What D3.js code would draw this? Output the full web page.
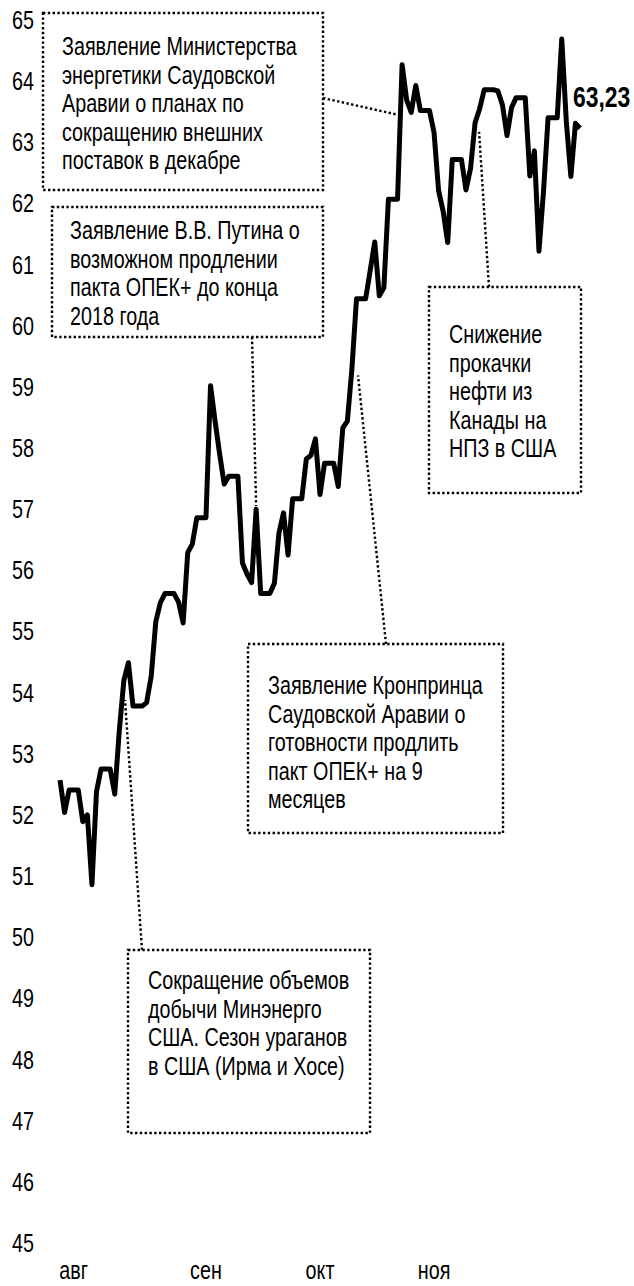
<!DOCTYPE html>
<html><head><meta charset="utf-8">
<script src="https://cdn.jsdelivr.net/npm/d3@7"></script>
<style>body{margin:0;background:#fff}svg{display:block}</style>
</head><body>
<svg id="c" width="634" height="1286"></svg>
<script>
// ---- data ----
const startDate = "2017-08-23";
const prices = [
  // Aug 23-31
  52.57, 52.04, 52.41, 52.41, 52.41, 51.89, 52.00, 50.86, 52.38,
  // Sep
  52.75, 52.75, 52.75, 52.34, 53.38, 54.20, 54.49, 53.78, 53.78, 53.78,
  53.84, 54.27, 55.16, 55.47, 55.62, 55.62, 55.62, 55.48, 55.14, 56.29,
  56.43, 56.86, 56.86, 56.86, 59.02, 58.44, 57.90, 57.41, 57.54, 57.54,
  // Oct
  57.54, 56.12, 55.94, 55.80, 57.00, 55.62, 55.62, 55.62, 55.79, 56.61,
  56.94, 56.25, 57.17, 57.17, 57.17, 57.82, 57.88, 58.15, 57.24, 57.75,
  57.75, 57.75, 57.37, 58.33, 58.44, 59.30, 60.44, 60.44, 60.44, 60.90, 61.37,
  // Nov
  60.49, 60.62, 62.07, 62.07, 62.07, 64.27, 63.69, 63.49, 63.93, 63.52,
  63.52, 63.52, 63.16, 62.21, 61.87, 61.36, 62.72, 62.72, 62.72, 62.22,
  62.57, 63.32, 63.55, 63.86, 63.86, 63.86, 63.84, 63.61, 63.11, 63.57,
  // Dec 1-15
  63.73, 63.73, 63.73, 62.45, 62.86, 61.22, 62.20, 63.40, 63.40, 63.40,
  64.69, 63.34, 62.44, 63.31, 63.23
];
const yTicks = [65,64,63,62,61,60,59,58,57,56,55,54,53,52,51,50,49,48,47,46,45];
const monthLabels = ["авг","сен","окт","ноя"];
const monthTickDates = ["2017-08-26","2017-09-24","2017-10-19","2017-11-13"];
const lastLabel = "63,23";
const noteTexts = [
  ["Заявление Министерства","энергетики Саудовской","Аравии о планах по","сокращению внешних","поставок в декабре"],
  ["Заявление В.В. Путина о","возможном продлении","пакта ОПЕК+ до конца","2018 года"],
  ["Снижение","прокачки","нефти из","Канады на","НПЗ в США"],
  ["Заявление Кронпринца","Саудовской Аравии о","готовности продлить","пакт ОПЕК+ на 9","месяцев"],
  ["Сокращение объемов","добычи Минэнерго","США. Сезон ураганов","в США (Ирма и Хосе)"]
];
const noteTargets = [
  {date:"2017-11-05T02:00", value:63.45},
  {date:"2017-10-05T00:00", value:57.05},
  {date:"2017-11-22T21:00", value:63.17},
  {date:"2017-10-27T08:00", value:59.19},
  {date:"2017-09-06T06:00", value:53.88}
];

// ---- layout ----
const FS = 25, SX = 0.79, LH = 28.5;
const FONT = "'Liberation Sans', Arial, sans-serif";
const noteBoxes = [
  {x:43, y:13, w:280, h:177, tx:62, ty:55, from:[323,98]},
  {x:52, y:207, w:271, h:130, tx:70, ty:239, from:[252,337]},
  {x:429, y:287, w:152, h:206, tx:449, ty:343, from:[489,287]},
  {x:248, y:644, w:255, h:189, tx:268, ty:694, from:[386,644]},
  {x:128, y:950, w:242, h:183, tx:148, ty:989, from:[142,950]}
];

const parse = d3.timeParse("%Y-%m-%d");
const parseT = d3.timeParse("%Y-%m-%dT%H:%M");
const d0 = parse(startDate);
const dates = d3.timeDay.range(d0, d3.timeDay.offset(d0, prices.length));
const data = dates.map((d,i)=>({date:d, value:prices[i]}));

const svg = d3.select("#c");
const x = d3.scaleTime().domain([dates[0], dates[dates.length-1]]).range([60, 580]);
const y = d3.scaleLinear().domain([45, 65]).range([1243, 20]);

function txt(g, px, py, s, anchor, opts={}) {
  return g.append("text")
    .attr("transform", `translate(${px},${py}) scale(${opts.sx||SX},1)`)
    .attr("text-anchor", anchor || "start")
    .attr("font-family", FONT)
    .attr("font-size", opts.fs || FS)
    .attr("font-weight", opts.fw || "normal")
    .attr("fill", "#000")
    .text(s);
}

// y axis labels
const gy = svg.append("g");
yTicks.forEach(t => txt(gy, 34, y(t) + 0.358*FS, String(t), "end"));

// x axis labels
const gx = svg.append("g");
monthTickDates.forEach((d,i) => txt(gx, x(parse(d)), 1279, monthLabels[i], "middle"));

// notes
const gn = svg.append("g");
noteBoxes.forEach((b,i) => {
  gn.append("rect").attr("x", b.x).attr("y", b.y).attr("width", b.w).attr("height", b.h)
    .attr("fill", "none").attr("stroke", "#000").attr("stroke-width", 2.4)
    .attr("stroke-dasharray", "2.4,2.4");
  const t = noteTargets[i];
  gn.append("line").attr("x1", b.from[0]).attr("y1", b.from[1])
    .attr("x2", x(parseT(t.date))).attr("y2", y(t.value))
    .attr("stroke", "#000").attr("stroke-width", 2.4).attr("stroke-dasharray", "2.4,2.4");
  noteTexts[i].forEach((s,k) => txt(gn, b.tx, b.ty + k*LH, s, "start"));
});

// line
svg.append("path").datum(data)
  .attr("fill", "none").attr("stroke", "#000").attr("stroke-width", 5)
  .attr("stroke-linejoin", "round").attr("stroke-linecap", "butt")
  .attr("d", d3.line().x(d=>x(d.date)).y(d=>y(d.value)));

// last value label
txt(svg, 573, 107, lastLabel, "start", {fs:29, fw:"bold"});
</script>
</body></html>
